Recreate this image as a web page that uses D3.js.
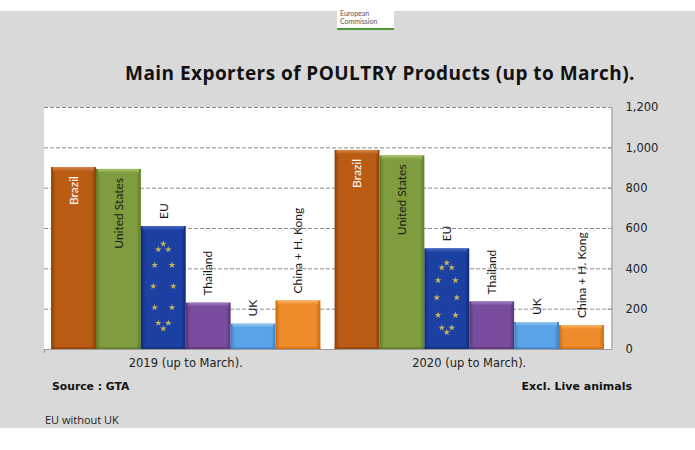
<!DOCTYPE html>
<html><head><meta charset="utf-8">
<script src="https://cdn.jsdelivr.net/npm/d3@7"></script>
<style>body{margin:0;background:#fff}svg{display:block}</style>
</head><body><svg id="c" width="695" height="450"></svg>
<script>
const periods = ["2019 (up to March).", "2020 (up to March)."];
const exporters = ["Brazil", "United States", "EU", "Thailand", "UK", "China + H. Kong"];
const values2019 = [902, 893, 610, 230, 126, 241];
const values2020 = [987, 960, 499, 236, 134, 119];
const yTicks = [0, 200, 400, 600, 800, 1000, 1200];
const colors = {
  "Brazil": ["#8a3d08", "#bb5c14", "#d98a4e"],
  "United States": ["#5c7a26", "#7f9d3e", "#a9c46e"],
  "EU": ["#0f2a78", "#1d41a2", "#4a6ac8"],
  "Thailand": ["#563274", "#7a4c9d", "#a07ec0"],
  "UK": ["#3a7fc4", "#5aa3e6", "#9ccaf2"],
  "China + H. Kong": ["#c9680e", "#ee8c2c", "#f8b46a"]
};

const svg = d3.select("#c");
const W = 695, H = 450;
svg.append("rect").attr("width", W).attr("height", H).attr("fill", "#fff");
svg.append("rect").attr("x", 0).attr("y", 11).attr("width", W).attr("height", 417).attr("fill", "#d9d9d9");

// logo
svg.append("rect").attr("x", 337).attr("y", 11).attr("width", 57).attr("height", 19).attr("fill", "#fff");
svg.append("rect").attr("x", 337).attr("y", 28).attr("width", 57).attr("height", 2).attr("fill", "#4c9a3c");
svg.append("text").attr("x", 340).attr("y", 16).text("European")
  .attr("font-family", "Lato").attr("font-size", 7).attr("fill", "#555");
svg.append("text").attr("x", 340).attr("y", 24).text("Commission")
  .attr("font-family", "Lato").attr("font-size", 7).attr("fill", "#555");

// title
svg.append("text").attr("x", 380).attr("y", 80).attr("text-anchor", "middle")
  .attr("font-family", "Open Sans").attr("font-weight", "bold").attr("font-size", 19)
  .attr("letter-spacing", 0.45)
  .attr("fill", "#111").text("Main Exporters of POULTRY Products (up to March).");

const pLeft = 44, pRight = 611, pTop = 107, pBottom = 349;
const y = d3.scaleLinear().domain([0, 1200]).range([pBottom, pTop]);
const x0 = d3.scaleBand().domain(periods).range([pLeft, pRight]).paddingInner(0.05).paddingOuter(0.025);
const x1 = d3.scaleBand().domain(exporters).range([0, x0.bandwidth()]).padding(0);

svg.append("rect").attr("x", pLeft).attr("y", pTop).attr("width", pRight - pLeft).attr("height", pBottom - pTop).attr("fill", "#fff");

// gridlines
svg.append("g").selectAll("line").data(yTicks.filter(d => d > 0)).join("line")
  .attr("x1", pLeft).attr("x2", pRight).attr("y1", d => y(d) + 0.5).attr("y2", d => y(d) + 0.5)
  .attr("stroke", "#8c8c8c").attr("stroke-width", 1).attr("stroke-dasharray", "4,2");

// gradients
const defs = svg.append("defs");
exporters.forEach((e, i) => {
  const c = colors[e];
  const g = defs.append("linearGradient").attr("id", "g" + i).attr("x1", 0).attr("x2", 1).attr("y1", 0).attr("y2", 0);
  g.append("stop").attr("offset", 0).attr("stop-color", c[0]);
  g.append("stop").attr("offset", 0.1).attr("stop-color", c[1]);
  g.append("stop").attr("offset", 0.9).attr("stop-color", c[1]);
  g.append("stop").attr("offset", 1).attr("stop-color", c[0]);
  const t = defs.append("linearGradient").attr("id", "t" + i).attr("x1", 0).attr("x2", 0).attr("y1", 0).attr("y2", 1);
  t.append("stop").attr("offset", 0).attr("stop-color", c[2]);
  t.append("stop").attr("offset", 1).attr("stop-color", c[1]);
});

const series = [values2019, values2020];
const rows = [];
periods.forEach((p, pi) => exporters.forEach((e, ei) => rows.push({ p, e, ei, v: series[pi][ei] })));

const bars = svg.append("g").selectAll("g").data(rows).join("g")
  .attr("transform", d => `translate(${x0(d.p) + x1(d.e)},0)`);
bars.append("rect").attr("x", 0).attr("y", d => y(d.v)).attr("width", x1.bandwidth())
  .attr("height", d => y(0) - y(d.v)).attr("fill", d => `url(#g${d.ei})`);
bars.append("rect").attr("x", 2).attr("y", d => y(d.v)).attr("width", x1.bandwidth() - 4)
  .attr("height", 4).attr("fill", d => `url(#t${d.ei})`);
bars.append("rect").attr("x", 0).attr("y", d => y(0) - 2).attr("width", x1.bandwidth())
  .attr("height", 2).attr("fill", d => colors[d.e][0]).attr("opacity", 0.6);

// EU stars
const star = d3.symbol().type(d3.symbolStar).size(14);
bars.filter(d => d.e === "EU").each(function (d) {
  const g = d3.select(this);
  const h = y(0) - y(d.v);
  const cx = x1.bandwidth() / 2, cy = y(d.v) + h * 0.49, rx = 10, ry = h * 0.345;
  d3.range(12).forEach(k => {
    const a = k * Math.PI / 6;
    g.append("path").attr("d", star)
      .attr("transform", `translate(${cx + rx * Math.sin(a)},${cy - ry * Math.cos(a)})`)
      .attr("fill", "#c9b45a");
  });
});

// bar labels
bars.append("text")
  .attr("transform", d => {
    const inside = d.v > 800;
    const ty = inside ? y(d.v) + 9 : y(d.v) - 7;
    return `translate(${x1.bandwidth() / 2},${ty}) rotate(-90)`;
  })
  .attr("dy", "0.35em")
  .attr("text-anchor", d => d.v > 800 ? "end" : "start")
  .attr("font-family", "Lato").attr("font-size", 12)
  .attr("fill", d => d.e === "Brazil" ? "#fff" : "#1a1a1a")
  .text(d => d.e);

// axes
svg.append("line").attr("x1", pLeft).attr("x2", pRight).attr("y1", pBottom + 0.5).attr("y2", pBottom + 0.5).attr("stroke", "#999");
svg.append("line").attr("x1", pLeft + 0.5).attr("x2", pLeft + 0.5).attr("y1", pBottom).attr("y2", pBottom + 4).attr("stroke", "#999");
const ay = svg.append("g").attr("transform", `translate(${pRight + 0.5},0)`)
  .call(d3.axisRight(y).tickValues(yTicks).tickFormat(d3.format(",")).tickSize(0).tickPadding(14));
ay.select(".domain").attr("stroke", "#999");
ay.selectAll(".tick line").attr("x1", -4).attr("x2", 0).attr("stroke", "#999");
ay.selectAll("text").attr("font-family", "DejaVu Sans").attr("font-size", 11.5).attr("fill", "#222");

const ax = svg.append("g").attr("transform", `translate(0,${pBottom})`)
  .call(d3.axisBottom(x0).tickSize(0).tickPadding(10));
ax.select(".domain").remove();
ax.selectAll("text").attr("font-family", "DejaVu Sans").attr("font-size", 11.5).attr("fill", "#222");

// notes
svg.append("text").attr("x", 52).attr("y", 390).text("Source : GTA")
  .attr("font-family", "DejaVu Sans").attr("font-weight", "bold").attr("font-size", 10.8).attr("fill", "#111");
svg.append("text").attr("x", 632).attr("y", 390).attr("text-anchor", "end").text("Excl. Live animals")
  .attr("font-family", "DejaVu Sans").attr("font-weight", "bold").attr("font-size", 11).attr("fill", "#111");
svg.append("text").attr("x", 45).attr("y", 424).text("EU without UK")
  .attr("font-family", "Open Sans").attr("font-size", 11).attr("fill", "#222");
</script></body></html>
